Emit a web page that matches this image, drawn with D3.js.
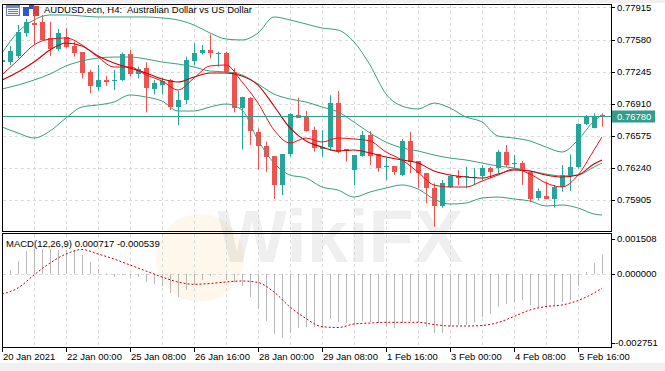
<!DOCTYPE html>
<html>
<head>
<meta charset="utf-8">
<script src="https://cdn.jsdelivr.net/npm/d3@7"></script>
<style>
  body { margin: 0; background: #fff; }
  svg { display: block; font-family: 'Liberation Sans', Arial, sans-serif; }
</style>
</head>
<body>
<svg id="chart" width="665" height="371"></svg>
<script>
// AUDUSD H4 candles, 20 Jan - 5 Feb 2021
const open = [0.77346, 0.77349, 0.77402, 0.77646, 0.77753, 0.77764, 0.77594, 0.77477, 0.7761, 0.77513,
  0.77448, 0.77239, 0.77082, 0.77158, 0.77143, 0.77158, 0.77427, 0.77218, 0.77281, 0.77072,
  0.77106, 0.77158, 0.7688, 0.7695, 0.77357, 0.77437, 0.77472, 0.7743, 0.7744, 0.77245,
  0.76871, 0.76974, 0.76613, 0.7647, 0.76365, 0.76063, 0.76383, 0.76793, 0.76783, 0.76637,
  0.76446, 0.76462, 0.76918, 0.76438, 0.76219, 0.76368, 0.76584, 0.76386, 0.76247, 0.76261,
  0.76167, 0.76522, 0.76313, 0.76185, 0.76028, 0.75844, 0.76045, 0.76157, 0.76143, 0.76131,
  0.76157, 0.76243, 0.76243, 0.7641, 0.76279, 0.76289, 0.76201, 0.75924, 0.75948, 0.75917,
  0.76045, 0.76149, 0.76247, 0.76699, 0.76661, 0.76793]
const high = [0.77398, 0.77513, 0.77732, 0.77795, 0.77847, 0.77837, 0.77764, 0.77691, 0.77698, 0.77558,
  0.77451, 0.77263, 0.77315, 0.77203, 0.77263, 0.77445, 0.77472, 0.77297, 0.77343, 0.77158,
  0.77183, 0.77169, 0.77044, 0.77402, 0.77541, 0.77524, 0.77635, 0.77454, 0.77454, 0.77281,
  0.76984, 0.76981, 0.76654, 0.76515, 0.76365, 0.76386, 0.76811, 0.76974, 0.76835, 0.76671,
  0.76637, 0.76999, 0.77044, 0.76438, 0.76376, 0.76626, 0.76626, 0.76386, 0.76348, 0.76261,
  0.76543, 0.76619, 0.76313, 0.76185, 0.7608, 0.76115, 0.76157, 0.76219, 0.76254, 0.7624,
  0.76271, 0.76254, 0.76428, 0.7648, 0.76376, 0.76313, 0.76201, 0.76028, 0.76097, 0.76063,
  0.76271, 0.76383, 0.76706, 0.76793, 0.76811, 0.76811]
const low = [0.77325, 0.77315, 0.77388, 0.7761, 0.77534, 0.77576, 0.77409, 0.77461, 0.77489, 0.77402,
  0.77176, 0.7702, 0.77044, 0.77099, 0.77054, 0.77148, 0.77193, 0.77176, 0.76821, 0.77009,
  0.77009, 0.76845, 0.76689, 0.76905, 0.77315, 0.77425, 0.77385, 0.77297, 0.77232, 0.76821,
  0.76435, 0.7648, 0.76219, 0.76201, 0.75917, 0.75958, 0.76358, 0.76765, 0.76619, 0.7641,
  0.76358, 0.76418, 0.76394, 0.76306, 0.76063, 0.76358, 0.76271, 0.76201, 0.76115, 0.76167,
  0.76157, 0.76185, 0.76028, 0.75872, 0.75628, 0.75826, 0.76031, 0.76063, 0.76028, 0.76063,
  0.76115, 0.76133, 0.76185, 0.76254, 0.76237, 0.76063, 0.75882, 0.75906, 0.75917, 0.75826,
  0.75993, 0.76, 0.76237, 0.76689, 0.76654, 0.76671]
const close = [0.77367, 0.77464, 0.77656, 0.77764, 0.77727, 0.77581, 0.77477, 0.77646, 0.77506, 0.77443,
  0.77228, 0.77089, 0.77158, 0.77134, 0.77158, 0.77427, 0.77218, 0.7727, 0.77072, 0.7713,
  0.77148, 0.7688, 0.7695, 0.77367, 0.77437, 0.77472, 0.77437, 0.77443, 0.77245, 0.76866,
  0.76984, 0.76626, 0.76462, 0.76358, 0.76063, 0.76386, 0.768, 0.76765, 0.76626, 0.76452,
  0.76462, 0.76918, 0.7641, 0.7642, 0.76376, 0.76584, 0.76368, 0.76243, 0.76261, 0.76201,
  0.76522, 0.76306, 0.76185, 0.76028, 0.75844, 0.7608, 0.76157, 0.76133, 0.76157, 0.76146,
  0.76243, 0.76201, 0.7641, 0.76271, 0.76289, 0.76201, 0.75924, 0.76, 0.75917, 0.76045,
  0.76167, 0.76247, 0.76699, 0.76775, 0.76775, 0.7678]

// indicator lines, read every second bar
const lineBars = [0, 2, 4, 6, 8, 10, 12, 14, 16, 18, 20, 22, 24, 26, 28, 30, 32, 34, 36, 38,
  40, 42, 44, 46, 48, 50, 52, 54, 56, 58, 60, 62, 64, 66, 68, 70, 72, 74, 75]
const bbUpper = [0.7744, 0.77659, 0.77785, 0.77837, 0.77837, 0.77826, 0.77816, 0.77816, 0.77816, 0.77816,
  0.77806, 0.77785, 0.77732, 0.77649, 0.77586, 0.77576, 0.77649, 0.77816, 0.77785, 0.77743,
  0.77701, 0.7768, 0.77555, 0.77315, 0.77012, 0.76887, 0.76856, 0.76918, 0.76866, 0.76772,
  0.7672, 0.76574, 0.76553, 0.76522, 0.76459, 0.76407, 0.76532, 0.76731, 0.76793]
const bbMid = [0.77065, 0.77106, 0.77158, 0.77221, 0.77305, 0.77357, 0.77388, 0.77398, 0.77398, 0.77378,
  0.77346, 0.77325, 0.77294, 0.77252, 0.77242, 0.77211, 0.77117, 0.77012, 0.7696, 0.76929,
  0.76877, 0.76825, 0.7672, 0.76605, 0.76511, 0.76449, 0.76418, 0.76376, 0.76344, 0.76324,
  0.76292, 0.76261, 0.7624, 0.76209, 0.76177, 0.76157, 0.76167, 0.76251, 0.76292]
const bbLower = [0.76668, 0.76605, 0.76553, 0.76626, 0.76762, 0.76877, 0.76898, 0.76929, 0.77002, 0.76981,
  0.76939, 0.76835, 0.76835, 0.76877, 0.76908, 0.76845, 0.76532, 0.76292, 0.76167, 0.76136,
  0.76042, 0.7601, 0.75937, 0.7599, 0.76031, 0.76063, 0.76021, 0.75917, 0.75864, 0.75875,
  0.75927, 0.75937, 0.75917, 0.75896, 0.75844, 0.75854, 0.75823, 0.7576, 0.7575]
const maFast = [0.77211, 0.77367, 0.77524, 0.77586, 0.77597, 0.77524, 0.77398, 0.77294, 0.77294, 0.77211,
  0.77148, 0.77054, 0.77179, 0.77305, 0.77315, 0.77138, 0.76918, 0.76637, 0.76501, 0.76553,
  0.76511, 0.76553, 0.76543, 0.76522, 0.76407, 0.76324, 0.76198, 0.76063, 0.76042, 0.76042,
  0.76104, 0.76167, 0.7623, 0.76177, 0.76084, 0.76042, 0.76167, 0.76428, 0.76564]
const maSlow = [0.77158, 0.77242, 0.77346, 0.77472, 0.77545, 0.77513, 0.77409, 0.77336, 0.77284, 0.77232,
  0.77169, 0.77138, 0.7719, 0.77232, 0.77232, 0.772, 0.77106, 0.76887, 0.76658, 0.76522,
  0.76459, 0.76418, 0.76428, 0.76397, 0.76355, 0.76324, 0.76292, 0.76209, 0.76167, 0.76146,
  0.76136, 0.76177, 0.76219, 0.76209, 0.76167, 0.76146, 0.76167, 0.76282, 0.76324]

// MACD(12,26,9)
const macdHist = [0.00007, 0.000145, 0.000486, 0.000864, 0.00094, 0.00094, 0.00094, 0.000902, 0.000902, 0.000902,
  0.000713, 0.00045, 0.000183, 0.00003, -0.00012, -0.000044, -0.000082, -0.00012, -0.000309, -0.000385,
  -0.000461, -0.000726, -0.000877, -0.000612, -0.000423, -0.000234, -0.000082, -0.00001, -0.000234, -0.000309,
  -0.000461, -0.000877, -0.001332, -0.001786, -0.002278, -0.00243, -0.002241, -0.002051, -0.002014, -0.002014,
  -0.002051, -0.001711, -0.001824, -0.001862, -0.001938, -0.001786, -0.001824, -0.001862, -0.002014, -0.002051,
  -0.001862, -0.001786, -0.001824, -0.002014, -0.002241, -0.002241, -0.001976, -0.001938, -0.001938, -0.001824,
  -0.001635, -0.001521, -0.001256, -0.001142, -0.001067, -0.000991, -0.00118, -0.001256, -0.001218, -0.00118,
  -0.001067, -0.000991, -0.000461, 0.00007, 0.00041, 0.000717]
const macdSignal = [-0.000764, -0.000536, -0.000044, 0.00041, 0.000751, 0.000921, 0.000751, 0.000561, 0.000334, 0.000107,
  -0.00012, -0.000309, -0.000396, -0.000366, -0.000309, -0.000271, -0.000328, -0.000688, -0.001256, -0.001691,
  -0.002002, -0.002032, -0.001899, -0.001862, -0.001835, -0.001835, -0.001835, -0.001918, -0.001975, -0.001975,
  -0.001956, -0.001843, -0.001615, -0.001369, -0.001237, -0.00118, -0.00101, -0.000726, -0.000539]

const priceTicks = [0.77915, 0.7758, 0.77245, 0.7691, 0.76575, 0.7624, 0.75905]
const macdTicks = [0.001508, 0, -0.002751]
const timeBars = [0, 8, 16, 24, 32, 40, 48, 56, 64, 72]
const timeLabels = ['20 Jan 2021', '22 Jan 00:00', '25 Jan 08:00', '26 Jan 16:00', '28 Jan 00:00',
  '29 Jan 08:00', '1 Feb 16:00', '3 Feb 00:00', '4 Feb 08:00', '5 Feb 16:00']

const up = '#26a69a'
const down = '#ef5350'
const bandColor = '#3a9f84'
const gridColor = '#dadada'

const svg = d3.select('#chart')
const L = 3
const R = 611
const mainTop = 5
const mainBottom = 231
const macdTop = 234
const macdBottom = 347

const x = d3.scaleLinear().domain([0, 75]).range([2, 602])
const y = d3.scaleLinear().domain([0.75583, 0.77941]).range([mainBottom, mainTop])
const yM = d3.scaleLinear().domain([-0.002751, 0.001508]).range([346.5, macdTop])
const px = i => Math.round(x(i))

svg.append('rect').attr('width', 665).attr('height', 371).attr('fill', '#fff')
svg.append('rect').attr('width', 665).attr('height', 3).attr('fill', '#f0f0f0')
svg.append('rect').attr('y', 363).attr('width', 665).attr('height', 8).attr('fill', '#f0f0f0')

const defs = svg.append('defs')
defs.append('clipPath').attr('id', 'clipMain')
  .append('rect').attr('x', L).attr('y', mainTop).attr('width', R - L).attr('height', mainBottom - mainTop)
defs.append('clipPath').attr('id', 'clipMacd')
  .append('rect').attr('x', L).attr('y', macdTop).attr('width', R - L).attr('height', macdBottom - macdTop)

// watermark
const wm = svg.append('g')
wm.append('circle').attr('cx', 200).attr('cy', 258).attr('r', 44)
  .attr('fill', '#f6b445').attr('opacity', 0.11)
wm.append('text').attr('x', 340).attr('y', 262)
  .attr('text-anchor', 'middle')
  .style('font-size', '74px').style('font-weight', 'bold')
  .attr('fill', '#000').attr('opacity', 0.06)
  .text('WikiFX')

// grid
const gridBars = d3.range(4, 76, 4)
const grid = svg.append('g').attr('stroke', gridColor).attr('stroke-dasharray', '3,3')
grid.selectAll('.vmain').data(gridBars).join('line')
  .attr('x1', d => px(d) + 0.5).attr('x2', d => px(d) + 0.5)
  .attr('y1', mainTop).attr('y2', mainBottom)
grid.selectAll('.vmacd').data(gridBars).join('line')
  .attr('x1', d => px(d) + 0.5).attr('x2', d => px(d) + 0.5)
  .attr('y1', macdTop).attr('y2', macdBottom)
grid.selectAll('.hmain').data(priceTicks).join('line')
  .attr('x1', L).attr('x2', R)
  .attr('y1', d => Math.round(y(d)) + 0.5).attr('y2', d => Math.round(y(d)) + 0.5)
grid.append('line')
  .attr('x1', L).attr('x2', R)
  .attr('y1', Math.round(yM(0)) + 0.5).attr('y2', Math.round(yM(0)) + 0.5)

// title
const title = svg.append('g')
title.append('rect').attr('x', 6.5).attr('y', 5.5).attr('width', 13).attr('height', 10)
  .attr('fill', '#eef2fa').attr('stroke', '#7183a8')
title.append('rect').attr('x', 7).attr('y', 6).attr('width', 12).attr('height', 2).attr('fill', '#6f86c0')
;[9.5, 11.5, 13.5].forEach(v => {
  title.append('line').attr('x1', 8).attr('x2', 18).attr('y1', v).attr('y2', v).attr('stroke', '#d9534f')
})
title.append('rect').attr('x', 23).attr('y', 7).attr('width', 6).attr('height', 9).attr('fill', '#2f55d4')
title.append('rect').attr('x', 29).attr('y', 4).attr('width', 5).attr('height', 5).attr('fill', '#2f55d4')
title.append('rect').attr('x', 33).attr('y', 6).attr('width', 6).attr('height', 10).attr('fill', '#d84040')
title.append('text').attr('x', 44).attr('y', 13)
  .style('font-size', '9.5px').style('white-space', 'pre')
  .text('AUDUSD.ecn, H4:  Australian Dollar vs US Dollar')

// candles
const main = svg.append('g').attr('clip-path', 'url(#clipMain)')
const candles = main.selectAll('.candle').data(open.map((o, i) => i)).join('g')
  .attr('fill', i => close[i] >= open[i] ? up : down)
  .attr('stroke', i => close[i] >= open[i] ? up : down)
candles.append('line')
  .attr('x1', i => px(i) + 0.5).attr('x2', i => px(i) + 0.5)
  .attr('y1', i => y(high[i])).attr('y2', i => y(low[i]))
candles.append('rect')
  .attr('stroke', 'none')
  .attr('x', i => px(i) - 2)
  .attr('width', 5)
  .attr('y', i => Math.round(y(Math.max(open[i], close[i]))))
  .attr('height', i => Math.max(1, Math.round(Math.abs(y(open[i]) - y(close[i])))))

// indicators
const line = d3.line().x(d => x(d[0])).y(d => y(d[1])).curve(d3.curveMonotoneX)
;[bbUpper, bbMid, bbLower].forEach(s => {
  main.append('path').datum(d3.zip(lineBars, s))
    .attr('fill', 'none').attr('stroke', bandColor).attr('stroke-width', 1)
    .attr('d', line)
})
main.append('path').datum(d3.zip(lineBars, maSlow))
  .attr('fill', 'none').attr('stroke', '#c40000').attr('stroke-width', 1.1).attr('d', line)
main.append('path').datum(d3.zip(lineBars, maFast))
  .attr('fill', 'none').attr('stroke', '#e8151b').attr('stroke-width', 1).attr('d', line)

// current price line
const last = close[close.length - 1]
main.append('line')
  .attr('x1', L).attr('x2', R)
  .attr('y1', Math.round(y(last)) + 0.5).attr('y2', Math.round(y(last)) + 0.5)
  .attr('stroke', '#2f9e8c')

// MACD
const macd = svg.append('g').attr('clip-path', 'url(#clipMacd)')
macd.selectAll('.hist').data(macdHist).join('line')
  .attr('x1', (d, i) => px(i) + 0.5).attr('x2', (d, i) => px(i) + 0.5)
  .attr('y1', yM(0)).attr('y2', d => yM(d))
  .attr('stroke', '#b8b8b8')
const lineM = d3.line().x(d => x(d[0])).y(d => yM(d[1])).curve(d3.curveMonotoneX)
macd.append('path').datum(d3.zip(lineBars, macdSignal))
  .attr('fill', 'none').attr('stroke', '#cc0000').attr('stroke-dasharray', '2,2')
  .attr('d', lineM)
svg.append('text').attr('x', 6).attr('y', 247)
  .style('font-size', '9.5px')
  .text(`MACD(12,26,9) ${macdHist[macdHist.length - 1].toFixed(6)} ${macdSignal[macdSignal.length - 1].toFixed(6)}`)

// frames
const frame = svg.append('g').attr('fill', 'none').attr('stroke', '#000')
frame.append('rect').attr('x', 2.5).attr('y', 4.5).attr('width', R - 2).attr('height', mainBottom - 4)
frame.append('rect').attr('x', 2.5).attr('y', 233.5).attr('width', R - 2).attr('height', macdBottom + 0.5 - 233.5)

// right axis
const axisR = svg.append('g').style('font-size', '9.5px')
axisR.selectAll('.pt').data(priceTicks).join('line')
  .attr('x1', R).attr('x2', R + 4)
  .attr('y1', d => Math.round(y(d)) + 0.5).attr('y2', d => Math.round(y(d)) + 0.5)
  .attr('stroke', '#000')
axisR.selectAll('.pl').data(priceTicks).join('text')
  .attr('x', R + 6).attr('y', d => y(d)).attr('dy', '0.35em')
  .text(d => d.toFixed(5))
axisR.append('rect').attr('x', R + 1).attr('y', Math.round(y(last)) - 5.5)
  .attr('width', 43).attr('height', 12).attr('fill', '#2f9e8c')
axisR.append('text').attr('x', R + 6).attr('y', y(last)).attr('dy', '0.35em')
  .attr('fill', '#fff').text(last.toFixed(5))

const macdLabelY = d => d > 0 ? yM(d) + 5 : d < 0 ? yM(d) - 4 : yM(d)
axisR.selectAll('.mt').data(macdTicks).join('line')
  .attr('x1', R).attr('x2', R + 4)
  .attr('y1', d => Math.round(macdLabelY(d)) + 0.5).attr('y2', d => Math.round(macdLabelY(d)) + 0.5)
  .attr('stroke', '#000')
axisR.selectAll('.ml').data(macdTicks).join('text')
  .attr('x', d => d < 0 ? R + 4 : R + 6).attr('y', macdLabelY).attr('dy', '0.35em')
  .text(d => d.toFixed(6))

// time axis
const axisB = svg.append('g').style('font-size', '9.5px')
axisB.selectAll('line').data(timeBars).join('line')
  .attr('x1', d => px(d) + 0.5).attr('x2', d => px(d) + 0.5)
  .attr('y1', macdBottom).attr('y2', macdBottom + 5)
  .attr('stroke', '#000')
axisB.selectAll('text').data(timeBars).join('text')
  .attr('x', d => px(d) + 1).attr('y', 360)
  .text((d, i) => timeLabels[i])
</script>
</body>
</html>
